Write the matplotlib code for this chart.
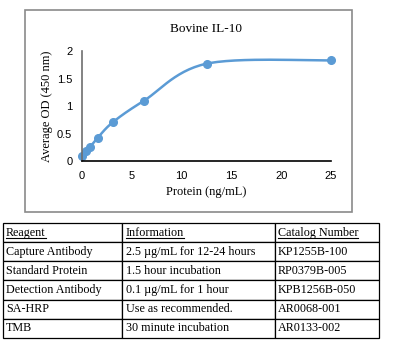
import matplotlib.pyplot as plt
import numpy as np
from matplotlib.patches import Rectangle
from matplotlib.lines import Line2D

# standard curve
protein = [0, 0.39, 0.78, 1.56, 3.125, 6.25, 12.5, 25]
od = [0.09, 0.18, 0.25, 0.42, 0.71, 1.10, 1.77, 1.83]

# reagent table
col_labels = ["Reagent", "Information", "Catalog Number"]
reagents = ["Capture Antibody", "Standard Protein", "Detection Antibody", "SA-HRP", "TMB"]
info = ["2.5 \u00b5g/mL for 12-24 hours", "1.5 hour incubation", "0.1 \u00b5g/mL for 1 hour",
        "Use as recommended.", "30 minute incubation"]
catalog = ["KP1255B-100", "RP0379B-005", "KPB1256B-050", "AR0068-001", "AR0133-002"]

serif = "Liberation Serif"
blue = "#5B9BD5"


def smooth(x, y, n=30):
    # excel-like smoothed line (catmull-rom as cubic bezier)
    p = np.column_stack([x, y]).astype(float)
    pts = []
    for i in range(len(p) - 1):
        p0 = p[i - 1] if i > 0 else p[i]
        p3 = p[i + 2] if i + 2 < len(p) else p[i + 1]
        c1 = p[i] + (p[i + 1] - p0) / 6
        c2 = p[i + 1] - (p3 - p[i]) / 6
        t = np.linspace(0, 1, n)[:, None]
        seg = ((1 - t) ** 3 * p[i] + 3 * (1 - t) ** 2 * t * c1
               + 3 * (1 - t) * t ** 2 * c2 + t ** 3 * p[i + 1])
        pts.append(seg)
    pts = np.vstack(pts)
    return pts[:, 0], pts[:, 1]


fig = plt.figure(figsize=(4, 3.52), dpi=100)

# chart frame
fig.patches.append(Rectangle((0.0625, 0.398), 0.8175, 0.574, transform=fig.transFigure,
                             fill=False, edgecolor="#8a8a8a", linewidth=1.2))

ax = fig.add_axes([0.205, 0.5426, 0.6225, 0.3124])
sx, sy = smooth(protein, od)
ax.plot(sx, sy, color=blue, linewidth=1.8, clip_on=False)
ax.plot(protein, od, "o", color=blue, markersize=5.5, clip_on=False)
ax.set_xlim(0, 25)
ax.set_ylim(0, 2)
ax.set_xticks([0, 5, 10, 15, 20, 25])
ax.set_yticks([0, 0.5, 1, 1.5, 2])
ax.set_yticklabels(["0", "0.5", "1", "1.5", "2"])
ax.tick_params(length=0, labelsize=8, pad=7)
for lab in ax.get_xticklabels() + ax.get_yticklabels():
    lab.set_fontfamily("Liberation Sans")
ax.spines["top"].set_visible(False)
ax.spines["right"].set_visible(False)
ax.spines["left"].set_color("#6e6e6e")
ax.spines["left"].set_linewidth(1.2)
ax.spines["bottom"].set_color("black")
ax.spines["bottom"].set_linewidth(1.2)
ax.set_title("Bovine IL-10", fontfamily=serif, fontsize=9.5, pad=14)
ax.set_xlabel("Protein (ng/mL)", fontfamily=serif, fontsize=9, labelpad=4)
ax.set_ylabel("Average OD (450 nm)", fontfamily=serif, fontsize=9, labelpad=3)

# table
tax = fig.add_axes([0, 0, 1, 1])
tax.axis("off")
rows = [list(r) for r in zip(reagents, info, catalog)]
tb = tax.table(cellText=rows, colLabels=col_labels, cellLoc="left", colLoc="left",
               colWidths=[119, 153, 104], bbox=[0.0075, 0.04, 0.94, 0.3265])
tb.auto_set_font_size(False)
for (r, c), cell in tb.get_celld().items():
    cell.set_edgecolor("black")
    cell.set_linewidth(0.9)
    cell.PAD = 0.025
    cell.get_text().set_fontfamily(serif)
    cell.get_text().set_fontsize(8.7)

fig.canvas.draw()
inv = fig.transFigure.inverted()
for c in range(3):
    bb = tb[0, c].get_text().get_window_extent()
    (x0, y0), (x1, _) = inv.transform([[bb.x0, bb.y0], [bb.x1, bb.y1]])
    fig.lines.append(Line2D([x0, x1], [y0 + 0.003, y0 + 0.003], transform=fig.transFigure,
                            color="black", linewidth=0.8))

fig.savefig("out.png", dpi=100)
